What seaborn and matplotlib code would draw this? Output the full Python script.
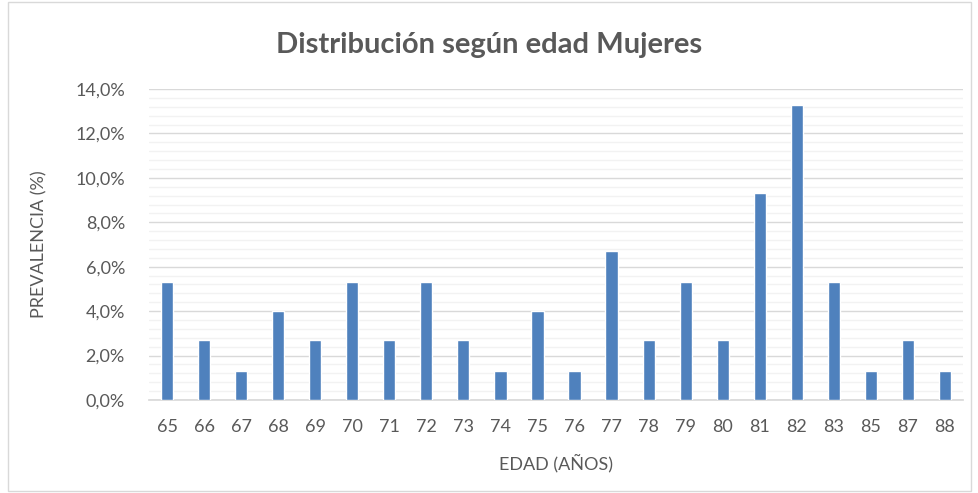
import matplotlib
matplotlib.use("Agg")
import matplotlib.pyplot as plt
import seaborn as sns
import pandas as pd
from matplotlib.ticker import MultipleLocator, FuncFormatter

edades = ["65", "66", "67", "68", "69", "70", "71", "72", "73", "74", "75",
          "76", "77", "78", "79", "80", "81", "82", "83", "85", "87", "88"]
prevalencia = [5.3, 2.7, 1.3, 4.0, 2.7, 5.3, 2.7, 5.3, 2.7, 1.3, 4.0,
               1.3, 6.7, 2.7, 5.3, 2.7, 9.3, 13.3, 5.3, 1.3, 2.7, 1.3]
yticks = [0, 2, 4, 6, 8, 10, 12, 14]

df = pd.DataFrame({"edad": edades, "prev": prevalencia})

sns.set_theme(style="white")
plt.rcParams["font.family"] = ["Lato", "DejaVu Sans"]

fig = plt.figure(figsize=(9.79, 4.93), dpi=100)
ax = fig.add_axes([148.5 / 979, 1 - 400 / 493, (963.5 - 148.5) / 979, (400 - 89) / 493])

sns.barplot(data=df, x="edad", y="prev", color="#4F81BD", saturation=1,
            width=0.33, ax=ax, zorder=3)

ax.set_ylim(0, 14)
ax.set_xlim(-0.5, len(edades) - 0.5)
ax.set_yticks(yticks)
ax.yaxis.set_minor_locator(MultipleLocator(0.4))
ax.yaxis.set_major_formatter(FuncFormatter(lambda v, p: f"{v:.1f}%".replace(".", ",")))
ax.grid(axis="y", which="major", color="#D9D9D9", linewidth=1.0, zorder=0)
ax.grid(axis="y", which="minor", color="#F2F2F2", linewidth=1.0, zorder=0)
ax.set_axisbelow(True)
for s in ["top", "right", "left"]:
    ax.spines[s].set_visible(False)
ax.spines["bottom"].set_color("#D9D9D9")
ax.tick_params(axis="both", which="both", length=0, colors="#595959", labelsize=13)
ax.tick_params(axis="y", pad=17)
ax.tick_params(axis="x", pad=14)

ax.set_xlabel("EDAD (AÑOS)", color="#595959", fontsize=13, labelpad=13)
ax.set_ylabel("PREVALENCIA (%)", color="#595959", fontsize=13, labelpad=20)
fig.text(0.5, 1 - 45 / 493, "Distribución según edad Mujeres", ha="center", va="center",
         fontsize=21, fontweight="bold", color="#595959")

fig.patches.append(plt.Rectangle((0.008, 0.005), 0.984, 0.99, transform=fig.transFigure,
                                 fill=False, edgecolor="#D9D9D9", linewidth=1))

fig.savefig("out.png", dpi=100)
